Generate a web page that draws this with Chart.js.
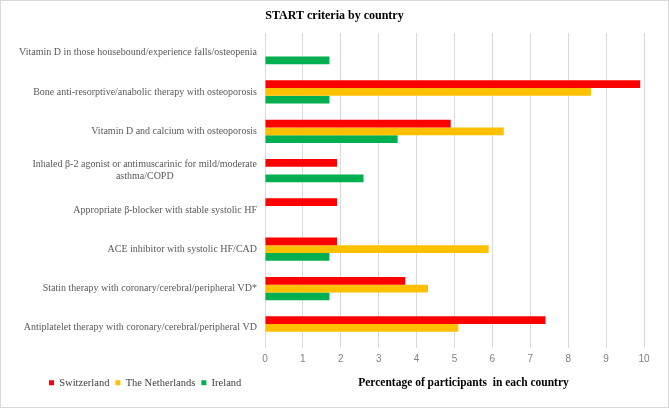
<!DOCTYPE html>
<html>
<head>
<meta charset="utf-8">
<script src="https://cdn.jsdelivr.net/npm/chart.js@4"></script>
<style>
  html, body { margin: 0; padding: 0; background: #fff; }
  #wrap { width: 669px; height: 408px; box-sizing: border-box; border: 1px solid #d9d9d9; background: #fff; }
</style>
</head>
<body>
<div id="wrap"><canvas id="startChart" width="667" height="406"></canvas></div>
<script>
const criteria = [
  "Vitamin D in those housebound/experience falls/osteopenia",
  "Bone anti-resorptive/anabolic therapy with osteoporosis",
  "Vitamin D and calcium with osteoporosis",
  ["Inhaled β-2 agonist or antimuscarinic for mild/moderate", "asthma/COPD"],
  "Appropriate β-blocker with stable systolic HF",
  "ACE inhibitor with systolic HF/CAD",
  "Statin therapy with coronary/cerebral/peripheral VD*",
  "Antiplatelet therapy with coronary/cerebral/peripheral VD"
];
const switzerland = [null, 9.9, 4.9, 1.9, 1.9, 1.9, 3.7, 7.4];
const netherlands = [null, 8.6, 6.3, null, null, 5.9, 4.3, 5.1];
const ireland = [1.7, 1.7, 3.5, 2.6, null, 1.7, 1.7, null];
const xMin = 0;
const xMax = 10;
const xStep = 1;

const chartTitle = "START criteria by country";
const axisTitle = "Percentage of participants  in each country";

const serif = "'Liberation Serif', 'Times New Roman', serif";

// texts drawn by hand: centred title, line-centred category labels,
// and the x axis title that shares the legend row
const chartTexts = {
  id: "chartTexts",
  afterDraw(chart) {
    const ctx = chart.ctx;
    const yScale = chart.scales.y;
    const right = chart.chartArea.left - 8;
    ctx.save();
    ctx.textBaseline = "middle";
    ctx.textAlign = "center";

    ctx.font = "bold 12px " + serif;
    ctx.fillStyle = "#000000";
    ctx.fillText(chartTitle, chart.width / 2, 15);

    ctx.font = "10px " + serif;
    ctx.fillStyle = "#595959";
    criteria.forEach(function (label, i) {
      const lines = Array.isArray(label) ? label : [label];
      const w = Math.max.apply(null, lines.map(function (l) { return ctx.measureText(l).width; }));
      const cy = yScale.getPixelForValue(i);
      lines.forEach(function (line, j) {
        ctx.fillText(line, right - w / 2, cy + (j - (lines.length - 1) / 2) * 12);
      });
    });

    const box = chart.legend.legendHitBoxes[0];
    ctx.font = "bold 11.5px " + serif;
    ctx.fillStyle = "#000000";
    ctx.fillText(axisTitle,
      (chart.chartArea.left + chart.chartArea.right) / 2 + 9,
      box.top + box.height / 2);
    ctx.restore();
  }
};

const ctx = document.getElementById("startChart").getContext("2d");
const startChart = new Chart(ctx, {
  type: "bar",
  data: {
    labels: criteria,
    datasets: [
      {
        label: "Switzerland",
        data: switzerland,
        backgroundColor: "#FF0000"
      },
      {
        label: "The Netherlands",
        data: netherlands,
        backgroundColor: "#FFC000"
      },
      {
        label: "Ireland",
        data: ireland,
        backgroundColor: "#00B050"
      }
    ]
  },
  options: {
    indexAxis: "y",
    responsive: false,
    animation: false,
    devicePixelRatio: 1,
    datasets: {
      bar: {
        categoryPercentage: 0.59,
        barPercentage: 1.0
      }
    },
    layout: {
      padding: { left: 42, right: 24, top: 32, bottom: 9 }
    },
    scales: {
      x: {
        min: xMin,
        max: xMax,
        border: { display: false },
        grid: { color: "#d9d9d9", lineWidth: 1, drawTicks: false },
        ticks: {
          stepSize: xStep,
          padding: 4,
          color: "#808080",
          font: { family: "'Liberation Sans', Arial, sans-serif", size: 10, lineHeight: 1.6 }
        }
      },
      y: {
        border: { display: false },
        grid: { display: false },
        ticks: { display: false },
        afterFit: function (scale) {
          scale.width = 222;
        }
      }
    },
    plugins: {
      title: { display: false },
      legend: {
        position: "bottom",
        align: "start",
        labels: {
          boxWidth: 5,
          boxHeight: 5,
          padding: 6,
          color: "#404040",
          font: { family: serif, size: 10.5 }
        }
      },
      tooltip: { enabled: false }
    }
  },
  plugins: [chartTexts]
});
</script>
</body>
</html>
